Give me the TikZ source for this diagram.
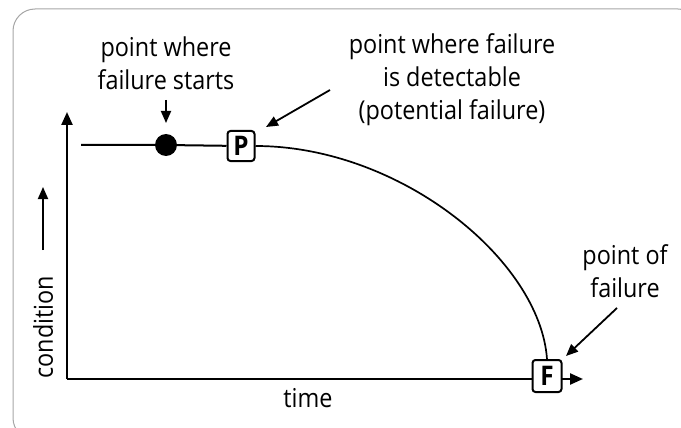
\documentclass[tikz,border=0pt]{standalone}
\usepackage{fontspec}
\setmainfont{Open Sans}[FakeStretch=0.9]
\usetikzlibrary{arrows.meta,positioning}
\tikzset{
  axis/.style={line width=2.4pt, -{Triangle[length=13pt,width=11pt]}},
  pointer/.style={line width=1.8pt, -{Triangle[length=12pt,width=10pt]}},
  lbl/.style={align=center, inner sep=0pt, font=\fontsize{26}{33}\selectfont},
  stage/.style={draw, fill=white, line width=2pt, rounded corners=3pt, minimum width=27pt, minimum height=30pt, inner sep=0pt, font=\fontsize{27}{27}\selectfont\bfseries},
}

\begin{document}
\begin{tikzpicture}[x=1pt, y=-1pt]
\useasboundingbox (0,0) rectangle (681,428);
% frame
\draw[gray!70, line width=1pt, rounded corners=22pt] (13,9) rectangle (700,440);
% axes
\coordinate (O) at (67,379);
\coordinate (ytip) at (67,112);
\coordinate (xtip) at (583,379);
\draw[axis] (O) -- (ytip);
\draw[axis] (O) -- (xtip);
% condition curve
\coordinate (s0) at (81,145);
\node[circle, fill=black, minimum size=22pt, inner sep=0pt] (dot) at (166,145) {};
\node[stage] (P) at (241,146) {P};
\node[stage, minimum width=29pt, minimum height=32pt] (F) at (547,376) {F};
\draw[line width=2pt] (s0) -- (dot) -- (P);
\draw[line width=1.7pt] (P.east) .. controls (400,146) and (540,260) .. (F.north);
% labels
\node[lbl] (lblstart) at (166,63) {point where\\failure starts};
\node[lbl] (lbldet) at (452,80) {point where failure\\is detectable\\(potential failure)};
\node[lbl] (lblfail) at (625,271) {point of\\failure};
\node[lbl] (time) at (308,398) {time};
\node[lbl, rotate=90] (cond) at (43,327) {condition};
% pointers
\coordinate (a1) at (166,100); \coordinate (a2) at (166,123);
\coordinate (b1) at (330,90);  \coordinate (b2) at (266,127);
\coordinate (c1) at (617,308); \coordinate (c2) at (566,356);
\coordinate (d1) at (43,250);  \coordinate (d2) at (43,187);
\draw[pointer] (a1) -- (a2);
\draw[pointer] (b1) -- (b2);
\draw[pointer] (c1) -- (c2);
\draw[pointer] (d1) -- (d2);
\end{tikzpicture}
\end{document}
